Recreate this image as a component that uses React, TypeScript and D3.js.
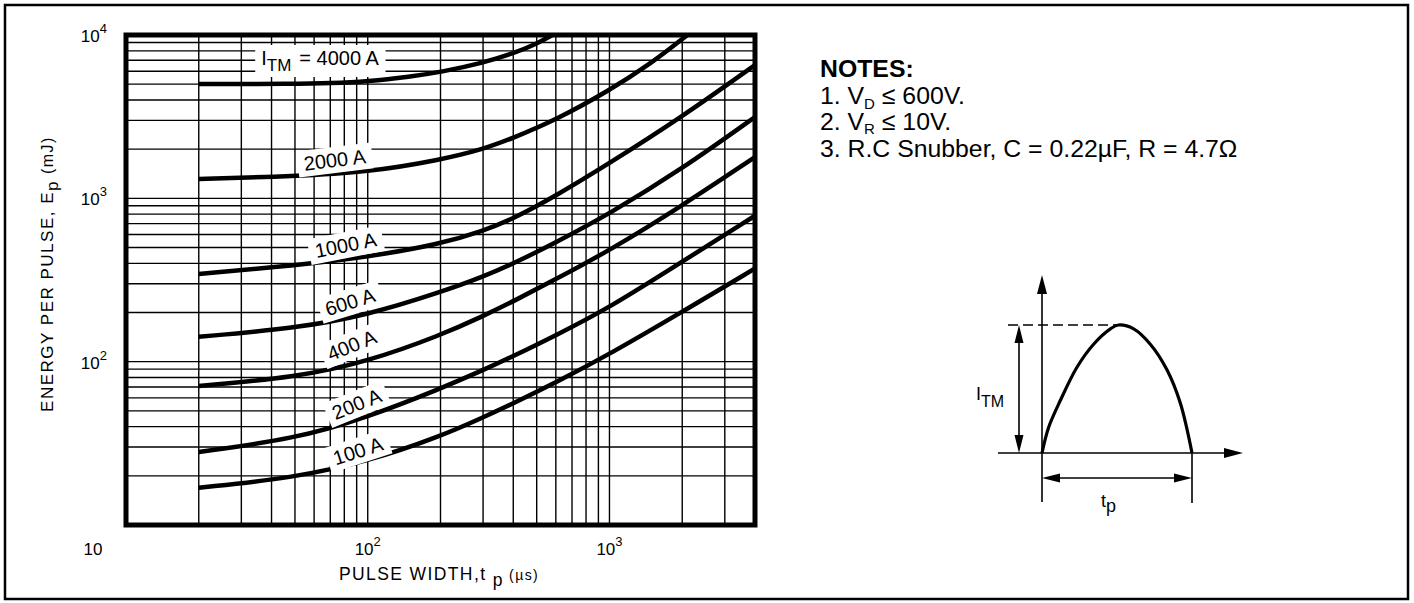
import { useEffect, useRef } from "react"
import * as d3 from "d3"

// pulse width (µs) samples shared by the five lower curves
const pulseWidths = [20, 50, 100, 200, 300, 400, 600, 1000, 2000, 4000]
const energy1000A = [344, 389, 437, 525, 631, 750, 1035, 1640, 3160, 6550]
const energy600A = [142, 160, 193, 266, 331, 398, 537, 804, 1514, 3148]
const energy400A = [71, 80, 100, 145, 190, 234, 320, 479, 902, 1790]
const energy200A = [28, 33.7, 45.7, 68.4, 88.7, 108, 145, 214, 410, 782]
const energy100A = [16.9, 19.5, 24.5, 34.9, 45.6, 55.6, 74.6, 111, 202, 372]

const pulseWidths2000A = [20, 50, 100, 200, 300, 400, 600, 1000, 1500, 2000, 2100]
const energy2000A = [1312, 1365, 1445, 1718, 1995, 2344, 3020, 4571, 6761, 9441, 10000]

const pulseWidths4000A = [20, 50, 70, 100, 150, 200, 300, 400, 500, 580]
const energy4000A = [5012, 5023, 5070, 5200, 5560, 5920, 6750, 7710, 8830, 10000]

// curve labels, anchored in data units
const curveLabels = ["4000 A", "2000 A", "1000 A", "600 A", "400 A", "200 A", "100 A"]
const labelPulseWidths = [63.5, 73, 81, 84.5, 86, 90, 91]
const labelEnergies = [7230, 1717, 517, 232, 126, 55, 28.4]
const labelAngles = [0, -7, -11, -17, -22, -22, -18]

const xGridTicks = [20, 30, 40, 50, 60, 70, 80, 90, 100, 200, 300, 400, 500, 600, 700, 800, 900, 1000, 2000, 3000]
const yGridTicks = [
  20, 30, 40, 50, 60, 70, 80, 90, 100, 200, 300, 400, 500, 600, 700, 800, 900,
  1000, 2000, 3000, 4000, 5000, 6000, 7000, 8000, 9000,
]
const xTickValues = [10, 100, 1000]
const xTickExponents = ["", "2", "3"]
const yTickValues = [100, 1000, 10000]
const yTickExponents = ["2", "3", "4"]

// sketch of the current pulse (normalised time / current)
const pulseT = [0, 0.044, 0.122, 0.233, 0.344, 0.456, 0.51, 0.611, 0.722, 0.833, 0.922, 1]
const pulseI = [0, 0.2, 0.41, 0.67, 0.85, 0.97, 1, 0.97, 0.85, 0.65, 0.39, 0]

const FONT = "'Liberation Sans', Arial, sans-serif"

export default function App() {
  const svgRef = useRef<SVGSVGElement>(null)

  useEffect(() => {
    if (!svgRef.current) return

    const svg = d3.select(svgRef.current)
    svg.selectAll("*").remove()

    const width = 1414
    const height = 603
    const plot = { left: 126, top: 35, right: 755, bottom: 525 }

    svg.attr("width", width).attr("height", height).style("font-family", FONT)

    const x = d3.scaleLog().domain([10, 4000]).range([plot.left, plot.right])
    const y = d3.scaleLog().domain([10, 10000]).range([plot.bottom, plot.top])

    svg.append("rect").attr("width", width).attr("height", height).attr("fill", "#fff")

    // outer frame
    svg
      .append("rect")
      .attr("x", 5)
      .attr("y", 5)
      .attr("width", 1403)
      .attr("height", 594)
      .attr("fill", "none")
      .attr("stroke", "#000")
      .attr("stroke-width", 2.5)

    // grid
    const grid = svg.append("g").attr("stroke", "#000").attr("stroke-width", 1.4)
    grid
      .selectAll(".vgrid")
      .data(xGridTicks)
      .enter()
      .append("line")
      .attr("class", "vgrid")
      .attr("x1", (d) => x(d))
      .attr("x2", (d) => x(d))
      .attr("y1", plot.top)
      .attr("y2", plot.bottom)
    grid
      .selectAll(".hgrid")
      .data(yGridTicks)
      .enter()
      .append("line")
      .attr("class", "hgrid")
      .attr("x1", plot.left)
      .attr("x2", plot.right)
      .attr("y1", (d) => y(d))
      .attr("y2", (d) => y(d))

    // label backgrounds + text (backgrounds hide grid)
    const labelLayer = svg.append("g")
    const labelGroups: SVGGElement[] = []
    curveLabels.forEach((label, i) => {
      const g = labelLayer
        .append("g")
        .attr(
          "transform",
          `translate(${x(labelPulseWidths[i])},${y(labelEnergies[i])}) rotate(${labelAngles[i]})`
        )
      const text = g
        .append("text")
        .attr("text-anchor", "middle")
        .attr("dy", "0.35em")
        .style("font-size", "20px")
        .style("fill", "#000")
      if (i === 0) {
        text.append("tspan").text("I")
        text.append("tspan").attr("dy", 6).style("font-size", "17px").text("TM")
        text.append("tspan").attr("dy", -6).attr("dx", 8).text("=  " + label)
      } else {
        text.text(label)
      }
      const box = (text.node() as SVGTextElement).getBBox()
      g.insert("rect", "text")
        .attr("x", box.x - 6)
        .attr("y", box.y - 2)
        .attr("width", box.width + 12)
        .attr("height", box.height + 4)
        .attr("fill", "#fff")
      labelGroups.push(g.node() as SVGGElement)
    })

    // curves
    const series: [number[], number[]][] = [
      [pulseWidths4000A, energy4000A],
      [pulseWidths2000A, energy2000A],
      [pulseWidths, energy1000A],
      [pulseWidths, energy600A],
      [pulseWidths, energy400A],
      [pulseWidths, energy200A],
      [pulseWidths, energy100A],
    ]

    svg
      .append("clipPath")
      .attr("id", "plot-clip")
      .append("rect")
      .attr("x", plot.left)
      .attr("y", plot.top)
      .attr("width", plot.right - plot.left)
      .attr("height", plot.bottom - plot.top)

    const line = d3
      .line<[number, number]>()
      .x((d) => x(d[0]))
      .y((d) => y(d[1]))
      .curve(d3.curveBasis)

    svg
      .append("g")
      .attr("clip-path", "url(#plot-clip)")
      .selectAll(".curve")
      .data(series)
      .enter()
      .append("path")
      .attr("class", "curve")
      .attr("d", ([tp, ep]) => line(tp.map((t, k) => [t, ep[k]] as [number, number])))
      .attr("fill", "none")
      .attr("stroke", "#000")
      .attr("stroke-width", 4.5)

    // keep label text on top of curves
    labelGroups.forEach((node) => svg.node()!.appendChild(node))

    // plot frame
    svg
      .append("rect")
      .attr("x", plot.left)
      .attr("y", plot.top)
      .attr("width", plot.right - plot.left)
      .attr("height", plot.bottom - plot.top)
      .attr("fill", "none")
      .attr("stroke", "#000")
      .attr("stroke-width", 5)

    // y tick labels
    yTickValues.forEach((v, i) => {
      const t = svg
        .append("text")
        .attr("x", 107)
        .attr("y", y(v) + 7)
        .attr("text-anchor", "end")
        .style("font-size", "17px")
      t.append("tspan").text("10")
      t.append("tspan").attr("dy", -9).style("font-size", "13px").text(yTickExponents[i])
    })

    // x tick labels
    xTickValues.forEach((v, i) => {
      const t = svg
        .append("text")
        .attr("x", i === 0 ? x(v) - 33 : x(v))
        .attr("y", 555)
        .attr("text-anchor", "middle")
        .style("font-size", "17px")
      t.append("tspan").text("10")
      if (xTickExponents[i]) {
        t.append("tspan").attr("dy", -9).style("font-size", "13px").text(xTickExponents[i])
      }
    })

    // axis titles
    const xTitle = svg
      .append("text")
      .attr("x", 439)
      .attr("y", 580)
      .attr("text-anchor", "middle")
      .style("font-size", "17.5px")
      .style("letter-spacing", "1.4px")
    xTitle.append("tspan").text("PULSE WIDTH,t ")
    xTitle.append("tspan").attr("dy", 6).text("p")
    xTitle.append("tspan").attr("dy", -6).style("font-size", "14px").text(" (µs)")

    const yTitle = svg
      .append("text")
      .attr("transform", `translate(53,274) rotate(-90)`)
      .attr("text-anchor", "middle")
      .style("font-size", "17px")
      .style("letter-spacing", "1.5px")
    yTitle.append("tspan").text("ENERGY PER PULSE, E")
    yTitle.append("tspan").attr("dy", 5).text("p")
    yTitle.append("tspan").attr("dy", -5).style("font-size", "16px").text(" (mJ)")

    // notes
    const notes = svg.append("g").style("font-size", "24.8px").style("fill", "#000")
    notes
      .append("text")
      .attr("x", 820)
      .attr("y", 77)
      .style("font-weight", "bold")
      .text("NOTES:")
    const n1 = notes.append("text").attr("x", 820).attr("y", 104)
    n1.append("tspan").text("1. V")
    n1.append("tspan").attr("dy", 5).style("font-size", "15px").text("D")
    n1.append("tspan").attr("dy", -5).text(" ≤ 600V.")
    const n2 = notes.append("text").attr("x", 820).attr("y", 130)
    n2.append("tspan").text("2. V")
    n2.append("tspan").attr("dy", 4).style("font-size", "15px").text("R")
    n2.append("tspan").attr("dy", -4).text(" ≤ 10V.")
    notes
      .append("text")
      .attr("x", 820)
      .attr("y", 157)
      .text("3. R.C Snubber, C = 0.22µF, R = 4.7Ω")

    // pulse sketch
    const px = d3.scaleLinear().domain([0, 1]).range([1042, 1192])
    const py = d3.scaleLinear().domain([0, 1]).range([453, 325])
    const sketch = svg.append("g").attr("stroke", "#000").attr("fill", "none")

    const arrow = (tx: number, ty: number, dir: "up" | "down" | "left" | "right", len = 18, half = 5) => {
      let pts: [number, number][] = []
      if (dir === "up") pts = [[tx, ty], [tx - half, ty + len], [tx + half, ty + len]]
      if (dir === "down") pts = [[tx, ty], [tx - half, ty - len], [tx + half, ty - len]]
      if (dir === "right") pts = [[tx, ty], [tx - len, ty - half], [tx - len, ty + half]]
      if (dir === "left") pts = [[tx, ty], [tx + len, ty - half], [tx + len, ty + half]]
      sketch
        .append("path")
        .attr("d", "M" + pts.map((p) => p.join(",")).join("L") + "Z")
        .attr("fill", "#000")
        .attr("stroke", "none")
    }

    // axes
    sketch.append("line").attr("x1", px(0)).attr("x2", px(0)).attr("y1", 502).attr("y2", 285).attr("stroke-width", 1.6)
    arrow(px(0), 275, "up", 19, 5)
    sketch.append("line").attr("x1", 998).attr("x2", 1232).attr("y1", py(0)).attr("y2", py(0)).attr("stroke-width", 1.6)
    arrow(1243, py(0), "right", 19, 5)

    // pulse shape
    const pulseLine = d3
      .line<number>()
      .x((_, k) => px(pulseT[k]))
      .y((d) => py(d))
      .curve(d3.curveCatmullRom.alpha(0.5))
    sketch.append("path").attr("d", pulseLine(pulseI)).attr("stroke-width", 3.2)

    // dashed peak line
    sketch
      .append("line")
      .attr("x1", 1008)
      .attr("x2", px(0.51))
      .attr("y1", py(1))
      .attr("y2", py(1))
      .attr("stroke-width", 1.5)
      .attr("stroke-dasharray", "10,5")

    // I_TM dimension
    sketch.append("line").attr("x1", 1019).attr("x2", 1019).attr("y1", py(1) + 10).attr("y2", py(0) - 10).attr("stroke-width", 1.6)
    arrow(1019, py(1), "up", 18, 4.5)
    arrow(1019, py(0), "down", 18, 4.5)

    // t_p dimension
    sketch.append("line").attr("x1", px(1)).attr("x2", px(1)).attr("y1", py(0)).attr("y2", 503).attr("stroke-width", 1.6)
    sketch.append("line").attr("x1", px(0) + 10).attr("x2", px(1) - 10).attr("y1", 478).attr("y2", 478).attr("stroke-width", 1.6)
    arrow(px(0), 478, "left", 18, 4.5)
    arrow(px(1), 478, "right", 18, 4.5)

    const itm = svg.append("text").attr("x", 976).attr("y", 400).style("font-size", "18px")
    itm.append("tspan").text("I")
    itm.append("tspan").attr("dy", 7).style("font-size", "16px").text("TM")

    const tpLabel = svg.append("text").attr("x", 1101).attr("y", 507).style("font-size", "18px")
    tpLabel.append("tspan").text("t")
    tpLabel.append("tspan").attr("dy", 5).text("p")
  }, [])

  return (
    <div style={{ position: "absolute", left: 0, top: 0 }}>
      <svg ref={svgRef} style={{ display: "block" }}></svg>
    </div>
  )
}
